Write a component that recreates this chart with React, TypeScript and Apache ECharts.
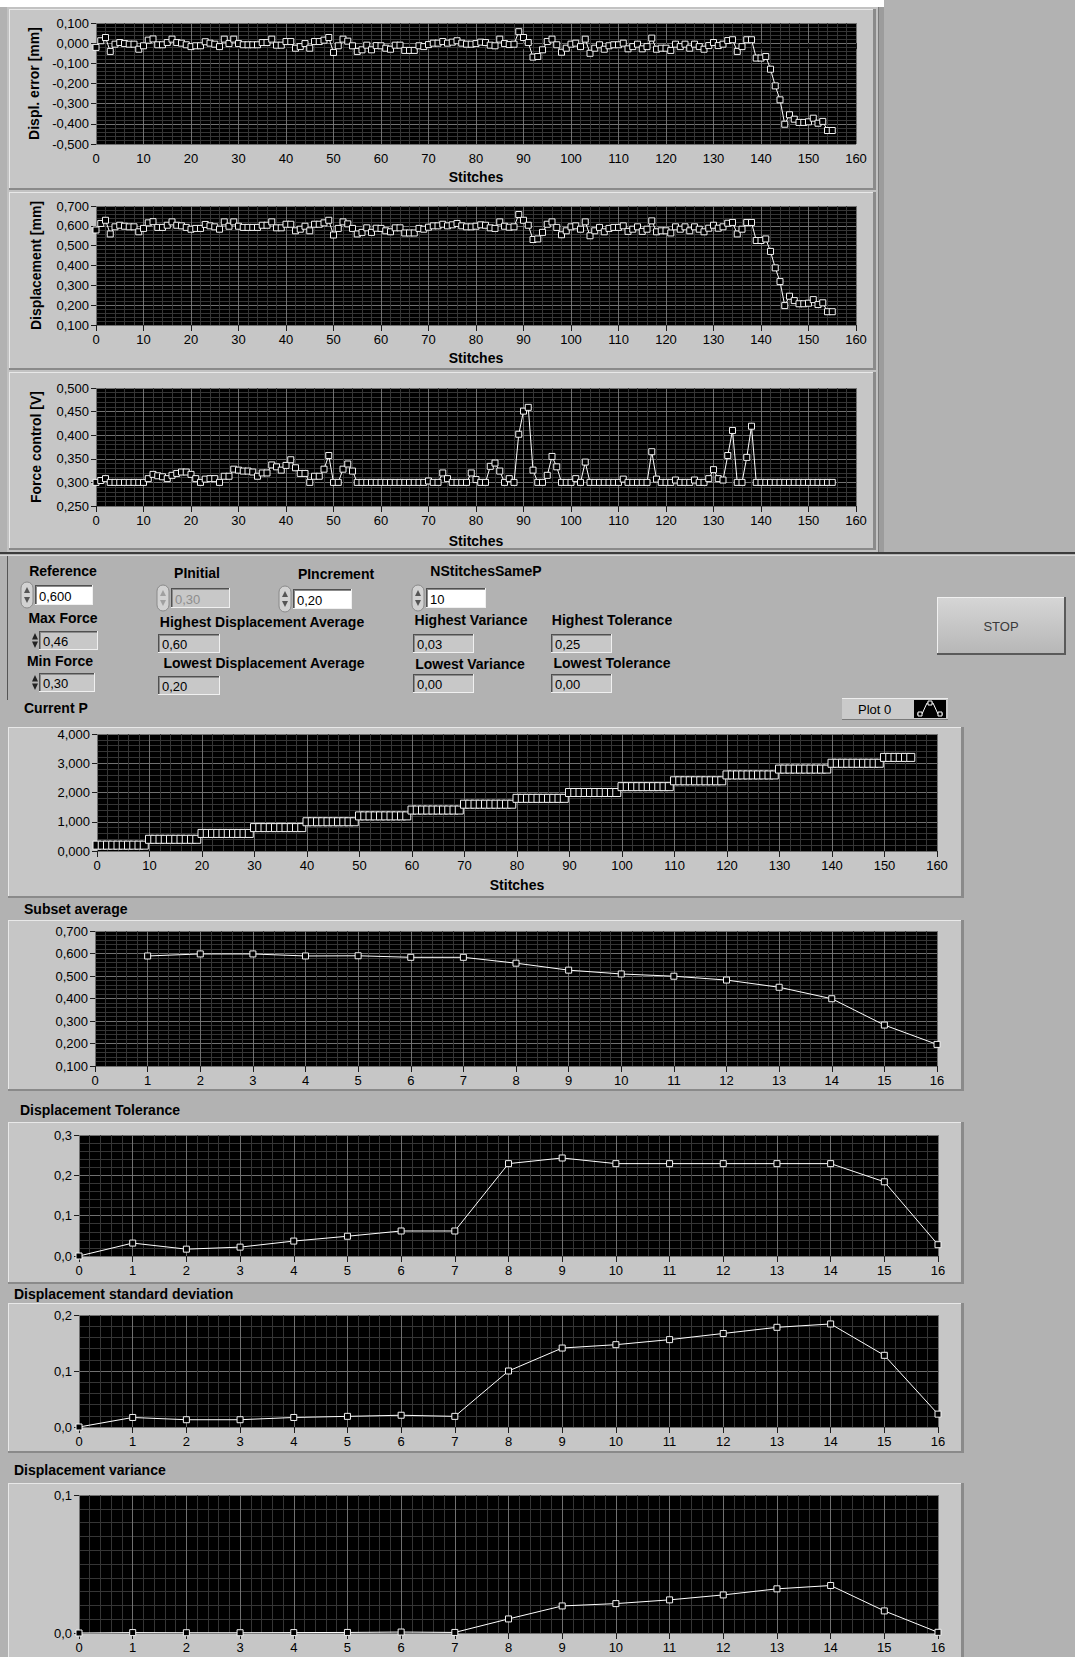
import React, { useEffect, useRef } from "react";
import * as echarts from "echarts";

const FONT = '"Liberation Sans", Arial, Helvetica, sans-serif';
const bold = (s: number) => `bold ${s}px ${FONT}`;
const reg = (s: number) => `${s}px ${FONT}`;

// ---------------- DATA ----------------
const displError = [
  -0.021, 0.012, 0.028, -0.041, -0.005, 0.003, -0.002, -0.005, -0.005, -0.03,
  -0.013, 0.015, 0.021, -0.008, -0.008, 0.003, 0.02, 0.003, 0.0, -0.008,
  -0.017, -0.013, -0.013, 0.007, 0.0, -0.005, -0.017, 0.02, -0.002, 0.02,
  -0.002, -0.008, -0.008, -0.008, -0.008, 0.003, 0.003, 0.02, -0.01, -0.01,
  0.008, 0.008, -0.025, -0.017, -0.002, -0.025, 0.008, 0.008, 0.015, 0.028,
  -0.046, -0.013, 0.02, 0.01, -0.013, -0.041, -0.033, -0.01, -0.033, -0.012,
  -0.013, -0.025, -0.03, -0.01, -0.01, -0.036, -0.036, -0.036, -0.013, -0.017,
  -0.007, 0.0, 0.0, 0.008, 0.0, 0.005, 0.012, 0.0, -0.005, -0.005,
  -0.002, 0.005, 0.003, -0.01, -0.013, 0.02, -0.002, -0.007, -0.005, 0.057,
  0.028, 0.003, -0.069, -0.066, -0.033, 0.008, 0.02, -0.008, -0.045, -0.025,
  -0.005, 0.0, -0.017, 0.02, -0.05, -0.025, -0.008, -0.03, -0.013, -0.008,
  -0.008, 0.0, -0.028, -0.017, -0.005, -0.028, -0.017, 0.025, -0.03, -0.025,
  -0.025, -0.036, -0.005, -0.017, -0.005, -0.025, -0.005, -0.017, -0.03, -0.012,
  0.003, -0.012, -0.005, 0.013, 0.017, -0.041, -0.017, 0.017, 0.017, -0.074,
  -0.074, -0.066, -0.129, -0.212, -0.281, -0.402, -0.355, -0.377, -0.393, -0.393,
  -0.39, -0.372, -0.397, -0.388, -0.433, -0.433,
];

const displacement = [
  0.579, 0.612, 0.628, 0.559, 0.595, 0.603, 0.598, 0.595, 0.595, 0.57,
  0.587, 0.615, 0.621, 0.592, 0.592, 0.603, 0.62, 0.603, 0.6, 0.592,
  0.583, 0.587, 0.587, 0.607, 0.6, 0.595, 0.583, 0.62, 0.598, 0.62,
  0.598, 0.592, 0.592, 0.592, 0.592, 0.603, 0.603, 0.62, 0.59, 0.59,
  0.608, 0.608, 0.575, 0.583, 0.598, 0.575, 0.608, 0.608, 0.615, 0.628,
  0.554, 0.587, 0.62, 0.61, 0.587, 0.559, 0.567, 0.59, 0.567, 0.588,
  0.587, 0.575, 0.57, 0.59, 0.59, 0.564, 0.564, 0.564, 0.587, 0.583,
  0.593, 0.6, 0.6, 0.608, 0.6, 0.605, 0.612, 0.6, 0.595, 0.595,
  0.598, 0.605, 0.603, 0.59, 0.587, 0.62, 0.598, 0.593, 0.595, 0.657,
  0.628, 0.603, 0.531, 0.534, 0.567, 0.608, 0.62, 0.592, 0.555, 0.575,
  0.595, 0.6, 0.583, 0.62, 0.55, 0.575, 0.592, 0.57, 0.587, 0.592,
  0.592, 0.6, 0.572, 0.583, 0.595, 0.572, 0.583, 0.625, 0.57, 0.575,
  0.575, 0.564, 0.595, 0.583, 0.595, 0.575, 0.595, 0.583, 0.57, 0.588,
  0.603, 0.588, 0.595, 0.613, 0.617, 0.559, 0.583, 0.617, 0.617, 0.526,
  0.526, 0.534, 0.471, 0.388, 0.319, 0.198, 0.245, 0.223, 0.207, 0.207,
  0.21, 0.228, 0.203, 0.212, 0.167, 0.167,
];

const forceControl = [
  0.3, 0.304, 0.308, 0.3, 0.3, 0.3, 0.3, 0.3, 0.3, 0.3,
  0.3, 0.308, 0.317, 0.314, 0.312, 0.308, 0.315, 0.319, 0.322, 0.322,
  0.317, 0.308, 0.3, 0.307, 0.308, 0.308, 0.3, 0.313, 0.313, 0.328,
  0.326, 0.324, 0.324, 0.322, 0.313, 0.32, 0.32, 0.337, 0.333, 0.326,
  0.336, 0.348, 0.331, 0.319, 0.319, 0.3, 0.313, 0.313, 0.328, 0.357,
  0.3, 0.3, 0.328, 0.339, 0.324, 0.3, 0.3, 0.3, 0.3, 0.3,
  0.3, 0.3, 0.3, 0.3, 0.3, 0.3, 0.3, 0.3, 0.3, 0.3,
  0.303, 0.3, 0.3, 0.32, 0.308, 0.3, 0.3, 0.3, 0.3, 0.32,
  0.306, 0.3, 0.3, 0.334, 0.341, 0.324, 0.3, 0.308, 0.3, 0.402,
  0.451, 0.459, 0.326, 0.3, 0.3, 0.315, 0.355, 0.333, 0.3, 0.3,
  0.3, 0.308, 0.3, 0.343, 0.3, 0.3, 0.3, 0.3, 0.3, 0.3,
  0.3, 0.307, 0.3, 0.3, 0.3, 0.3, 0.3, 0.365, 0.307, 0.3,
  0.3, 0.3, 0.305, 0.3, 0.3, 0.3, 0.305, 0.3, 0.3, 0.308,
  0.327, 0.308, 0.305, 0.357, 0.41, 0.3, 0.3, 0.353, 0.419, 0.3,
  0.3, 0.3, 0.3, 0.3, 0.3, 0.3, 0.3, 0.3, 0.3, 0.3,
  0.3, 0.3, 0.3, 0.3, 0.3, 0.3,
];

const currentP = [
  0.2, 0.2, 0.2, 0.2, 0.2, 0.2, 0.2, 0.2, 0.2, 0.2,
  0.4, 0.4, 0.4, 0.4, 0.4, 0.4, 0.4, 0.4, 0.4, 0.4,
  0.6, 0.6, 0.6, 0.6, 0.6, 0.6, 0.6, 0.6, 0.6, 0.6,
  0.8, 0.8, 0.8, 0.8, 0.8, 0.8, 0.8, 0.8, 0.8, 0.8,
  1.0, 1.0, 1.0, 1.0, 1.0, 1.0, 1.0, 1.0, 1.0, 1.0,
  1.2, 1.2, 1.2, 1.2, 1.2, 1.2, 1.2, 1.2, 1.2, 1.2,
  1.4, 1.4, 1.4, 1.4, 1.4, 1.4, 1.4, 1.4, 1.4, 1.4,
  1.6, 1.6, 1.6, 1.6, 1.6, 1.6, 1.6, 1.6, 1.6, 1.6,
  1.8, 1.8, 1.8, 1.8, 1.8, 1.8, 1.8, 1.8, 1.8, 1.8,
  2.0, 2.0, 2.0, 2.0, 2.0, 2.0, 2.0, 2.0, 2.0, 2.0,
  2.2, 2.2, 2.2, 2.2, 2.2, 2.2, 2.2, 2.2, 2.2, 2.2,
  2.4, 2.4, 2.4, 2.4, 2.4, 2.4, 2.4, 2.4, 2.4, 2.4,
  2.6, 2.6, 2.6, 2.6, 2.6, 2.6, 2.6, 2.6, 2.6, 2.6,
  2.8, 2.8, 2.8, 2.8, 2.8, 2.8, 2.8, 2.8, 2.8, 2.8,
  3.0, 3.0, 3.0, 3.0, 3.0, 3.0, 3.0, 3.0, 3.0, 3.0,
  3.2, 3.2, 3.2, 3.2, 3.2, 3.2,
];

const subsetNumber = [1, 2, 3, 4, 5, 6, 7, 8, 9, 10, 11, 12, 13, 14, 15, 16];
const subsetAverage = [0.589, 0.598, 0.598, 0.589, 0.59, 0.583, 0.583, 0.557, 0.526, 0.509, 0.499, 0.482, 0.45, 0.399, 0.282, 0.196];

const stepNumber = [0, 1, 2, 3, 4, 5, 6, 7, 8, 9, 10, 11, 12, 13, 14, 15, 16];
const dispTolerance = [0.0, 0.032, 0.017, 0.022, 0.037, 0.049, 0.062, 0.062, 0.229, 0.243, 0.229, 0.229, 0.229, 0.229, 0.229, 0.184, 0.028];
const dispStdDev = [0.0, 0.017, 0.013, 0.013, 0.017, 0.019, 0.021, 0.019, 0.1, 0.141, 0.147, 0.156, 0.167, 0.178, 0.184, 0.128, 0.023];
const dispVariance = [0.0, 0.0003, 0.0002, 0.0002, 0.0003, 0.0004, 0.0007, 0.0004, 0.0102, 0.0196, 0.0213, 0.024, 0.0276, 0.032, 0.0344, 0.016, 0.0005];

const stitchIndex = displError.map((_, i) => i);

const controlLabels = [
  "Reference", "PInitial", "PIncrement", "NStitchesSameP",
  "Max Force", "Highest Displacement Average", "Highest Variance", "Highest Tolerance",
  "Min Force", "Lowest Displacement Average", "Lowest Variance", "Lowest Tolerance",
];
const controlValues = ["0,600", "0,30", "0,20", "10", "0,46", "0,60", "0,03", "0,25", "0,30", "0,20", "0,00", "0,00"];

const sectionTitles = ["Current P", "Subset average", "Displacement Tolerance", "Displacement standard deviation", "Displacement variance"];

// ---------------- LAYOUT ----------------
const controlLayout: any[] = [
  { lx: 63, ly: 571, bx: 35, by: 585, bw: 58, bh: 20, kind: "control", spin: "pill", sx: 21 },
  { lx: 197, ly: 573, bx: 171, by: 588, bw: 59, bh: 20, kind: "disabled", spin: "pill", sx: 157 },
  { lx: 336, ly: 574, bx: 293, by: 589, bw: 59, bh: 20, kind: "control", spin: "pill", sx: 279 },
  { lx: 486, ly: 571, bx: 426, by: 588, bw: 60, bh: 20, kind: "control", spin: "pill", sx: 412 },
  { lx: 63, ly: 618, bx: 39, by: 631, bw: 59, bh: 19, kind: "indicator", spin: "arrows", sx: 32 },
  { lx: 262, ly: 622, bx: 158, by: 634, bw: 62, bh: 19, kind: "indicator" },
  { lx: 471, ly: 620, bx: 413, by: 634, bw: 61, bh: 19, kind: "indicator" },
  { lx: 612, ly: 620, bx: 551, by: 634, bw: 61, bh: 19, kind: "indicator" },
  { lx: 60, ly: 661, bx: 39, by: 673, bw: 56, bh: 19, kind: "indicator", spin: "arrows", sx: 32 },
  { lx: 264, ly: 663, bx: 158, by: 676, bw: 62, bh: 19, kind: "indicator" },
  { lx: 470, ly: 664, bx: 413, by: 674, bw: 61, bh: 19, kind: "indicator" },
  { lx: 612, ly: 663, bx: 551, by: 674, bw: 61, bh: 19, kind: "indicator" },
];
const sectionTitlePos = [
  [24, 708], [24, 909], [20, 1110], [14, 1294], [14, 1470],
];

const fmt = (d: number) => (v: number) => {
  const r = Math.abs(v) < 1e-9 ? 0 : v;
  return r.toFixed(d).replace(".", ",");
};

const specs: any[] = [
  { l: 96, t: 23, r: 856, b: 144, xMax: 160, xInt: 10, yMin: -0.5, yMax: 0.1, yInt: 0.1, dec: 3, yMinor: 5, yName: "Displ. error [mm]", xName: "Stitches", gap: 26, xs: stitchIndex, ys: displError, sym: 6 },
  { l: 96, t: 206, r: 856, b: 325, xMax: 160, xInt: 10, yMin: 0.1, yMax: 0.7, yInt: 0.1, dec: 3, yMinor: 5, yName: "Displacement [mm]", xName: "Stitches", gap: 26, xs: stitchIndex, ys: displacement, sym: 6 },
  { l: 96, t: 388, r: 856, b: 506, xMax: 160, xInt: 10, yMin: 0.25, yMax: 0.5, yInt: 0.05, dec: 3, yMinor: 5, yName: "Force control [V]", xName: "Stitches", gap: 28, xs: stitchIndex, ys: forceControl, sym: 6 },
  { l: 97, t: 734, r: 937, b: 851, xMax: 160, xInt: 10, yMin: 0, yMax: 4, yInt: 1, dec: 3, yMinor: 5, xName: "Stitches", gap: 27, xs: stitchIndex, ys: currentP, sym: 8 },
  { l: 95, t: 931, r: 937, b: 1066, xMax: 16, xInt: 1, yMin: 0.1, yMax: 0.7, yInt: 0.1, dec: 3, yMinor: 5, xs: subsetNumber, ys: subsetAverage, sym: 6 },
  { l: 79, t: 1135, r: 938, b: 1256, xMax: 16, xInt: 1, yMin: 0, yMax: 0.3, yInt: 0.1, dec: 1, yMinor: 5, xs: stepNumber, ys: dispTolerance, sym: 6 },
  { l: 79, t: 1315, r: 938, b: 1427, xMax: 16, xInt: 1, yMin: 0, yMax: 0.2, yInt: 0.1, dec: 1, yMinor: 5, xs: stepNumber, ys: dispStdDev, sym: 6 },
  { l: 79, t: 1495, r: 938, b: 1633, xMax: 16, xInt: 1, yMin: 0, yMax: 0.1, yInt: 0.1, dec: 1, yMinor: 10, xs: stepNumber, ys: dispVariance, sym: 6 },
];

// ---------------- GRAPHICS ----------------
function buildGraphics() {
  const els: any[] = [];
  const rect = (x: number, y: number, w: number, h: number, fill: string, z = -5, extra: any = {}) =>
    els.push({ type: "rect", silent: true, z, shape: { x, y, width: w, height: h, ...(extra.r ? { r: extra.r } : {}) }, style: { fill, stroke: extra.stroke, lineWidth: extra.lineWidth } });
  const line = (x1: number, y1: number, x2: number, y2: number, stroke: string, lw = 1, z = -4) =>
    els.push({ type: "line", silent: true, z, shape: { x1, y1, x2, y2 }, style: { stroke, lineWidth: lw } });
  const poly = (pts: number[][], fill: string, z = 3) => els.push({ type: "polygon", silent: true, z, shape: { points: pts }, style: { fill } });
  const text = (x: number, y: number, t: string, font: string, fill = "#000", align = "left", valign = "middle", rotation = 0) =>
    els.push({
      type: "text", silent: true, z: 5, x, y, rotation,
      style: { text: t, font, fill, align, textAlign: align, verticalAlign: valign, textVerticalAlign: valign },
    });
  const bevel = (x: number, y: number, w: number, h: number, fill: string) => {
    rect(x, y, w, h, fill, -5);
    line(x, y + 0.5, x + w, y + 0.5, "#e8e8e8");
    line(x + 0.5, y, x + 0.5, y + h, "#e8e8e8");
    rect(x + w - 3, y, 3, h, "#8a8a8a", -4);
    rect(x, y + h - 2, w, 2, "#8a8a8a", -4);
  };

  // page backgrounds
  rect(0, 0, 1075, 1657, "#b2b2b2", -10);
  rect(0, 0, 884, 7, "#ffffff", -9);
  rect(7, 7, 877, 546, "#c2c2c2", -9);
  rect(878, 7, 6, 546, "#9c9c9c", -8);
  line(878.5, 7, 878.5, 553, "#7a7a7a", 1, -8);

  // top chart panels
  bevel(9, 9, 867, 181, "#c6c6c6");
  bevel(9, 192, 867, 178, "#c6c6c6");
  bevel(9, 372, 867, 178, "#c6c6c6");

  // separator
  rect(0, 552, 1075, 2, "#3c3c3c", -3);
  rect(0, 555, 1075, 1, "#d8d8d8", -3);
  line(7.5, 556, 7.5, 700, "#555555", 1, -3);

  // lower chart panels
  bevel(8, 727, 956, 171, "#c6c6c6");
  bevel(8, 920, 956, 171, "#c6c6c6");
  bevel(8, 1122, 956, 162, "#c6c6c6");
  bevel(8, 1303, 956, 150, "#c6c6c6");
  bevel(8, 1483, 956, 176, "#c6c6c6");

  // controls
  controlLayout.forEach((c, i) => {
    text(c.lx, c.ly, controlLabels[i], bold(14), "#000", "center", "middle");
    const fill = c.kind === "control" ? "#ffffff" : "#c8c8c8";
    rect(c.bx, c.by, c.bw, c.bh, fill, -2);
    line(c.bx, c.by + 0.5, c.bx + c.bw, c.by + 0.5, "#505050", 1, -1);
    line(c.bx + 0.5, c.by, c.bx + 0.5, c.by + c.bh, "#505050", 1, -1);
    line(c.bx + 1, c.by + 1.5, c.bx + c.bw - 1, c.by + 1.5, "#8c8c8c", 1, -1);
    line(c.bx + 1.5, c.by + 1, c.bx + 1.5, c.by + c.bh - 1, "#8c8c8c", 1, -1);
    line(c.bx, c.by + c.bh - 0.5, c.bx + c.bw, c.by + c.bh - 0.5, "#f0f0f0", 1, -1);
    line(c.bx + c.bw - 0.5, c.by, c.bx + c.bw - 0.5, c.by + c.bh, "#f0f0f0", 1, -1);
    text(c.bx + 4, c.by + c.bh / 2 + 1, controlValues[i], reg(13), c.kind === "disabled" ? "#8e8e8e" : "#000", "left", "middle");
    if (c.spin === "pill") {
      const sy = c.by - 3, sw = 12, sh = c.bh + 6;
      const col = c.kind === "disabled" ? "#a0a0a0" : "#555555";
      els.push({ type: "rect", silent: true, z: 2, shape: { x: c.sx, y: sy, width: sw, height: sh, r: 6 }, style: { fill: "#d2d2d2", stroke: "#8a8a8a", lineWidth: 1 } });
      const cx = c.sx + sw / 2;
      poly([[cx - 3, sy + sh / 2 - 2], [cx + 3, sy + sh / 2 - 2], [cx, sy + 5]], col);
      poly([[cx - 3, sy + sh / 2 + 2], [cx + 3, sy + sh / 2 + 2], [cx, sy + sh - 5]], col);
    } else if (c.spin === "arrows") {
      const cx = c.sx + 3, y0 = c.by + 2, h = c.bh - 4;
      poly([[cx - 3, y0 + h / 2 - 1], [cx + 3, y0 + h / 2 - 1], [cx, y0]], "#222");
      poly([[cx - 3, y0 + h / 2 + 1], [cx + 3, y0 + h / 2 + 1], [cx, y0 + h]], "#222");
    }
  });

  // STOP button
  els.push({
    type: "rect", silent: true, z: 1, shape: { x: 937, y: 597, width: 129, height: 58 },
    style: {
      fill: new echarts.graphic.LinearGradient(0, 0, 0, 1, [
        { offset: 0, color: "#d6d6d6" },
        { offset: 1, color: "#b6b6b6" },
      ]),
    },
  });
  line(937, 597.5, 1066, 597.5, "#f0f0f0", 1, 2);
  line(937.5, 597, 937.5, 655, "#f0f0f0", 1, 2);
  line(937, 654, 1066, 654, "#5a5a5a", 2, 2);
  line(1065, 597, 1065, 655, "#5a5a5a", 2, 2);
  text(1001, 626, "STOP", reg(13), "#3a3a3a", "center", "middle");

  // legend "Plot 0"
  rect(842, 698, 106, 22, "#cacaca", 1);
  line(842, 698.5, 948, 698.5, "#eeeeee", 1, 2);
  line(842, 719.5, 948, 719.5, "#7a7a7a", 1, 2);
  text(858, 709, "Plot 0", reg(13), "#000", "left", "middle");
  rect(914, 700, 32, 18, "#000000", 2);
  els.push({ type: "polyline", silent: true, z: 3, shape: { points: [[917, 714], [922, 714], [927, 703], [933, 703], [938, 714], [943, 714]] }, style: { stroke: "#fff", lineWidth: 1, fill: "none" } });
  [[920, 714], [930, 703], [940, 714]].forEach(([x, y]) =>
    els.push({ type: "rect", silent: true, z: 4, shape: { x: x - 2, y: y - 2, width: 4, height: 4 }, style: { fill: "#000", stroke: "#fff", lineWidth: 1 } })
  );

  // section titles
  sectionTitles.forEach((t, i) => text(sectionTitlePos[i][0], sectionTitlePos[i][1], t, bold(14), "#000", "left", "middle"));

  return els;
}

function buildOption() {
  const labelStyle = { color: "#000", fontSize: 13, fontFamily: FONT };
  const nameStyle = { color: "#000", fontSize: 14, fontWeight: "bold", fontFamily: FONT };
  return {
    animation: false,
    textStyle: { fontFamily: FONT },
    graphic: { elements: buildGraphics() },
    grid: specs.map((s) => ({ left: s.l, top: s.t, width: s.r - s.l, height: s.b - s.t, show: true, backgroundColor: "#000", borderWidth: 0 })),
    xAxis: specs.map((s, i) => ({
      gridIndex: i, type: "value", min: 0, max: s.xMax, interval: s.xInt,
      axisLine: { show: false },
      axisTick: { show: true, length: 6, lineStyle: { color: "#1c1c1c" } },
      axisLabel: { ...labelStyle, margin: 8, showMinLabel: true, showMaxLabel: true, formatter: (v: number) => String(v) },
      splitLine: { show: true, lineStyle: { color: "#707070", width: 1 } },
      minorTick: { show: false, splitNumber: 5 },
      minorSplitLine: { show: true, lineStyle: { color: "#353535", width: 1 } },
      name: s.xName, nameLocation: "middle", nameGap: s.gap, nameTextStyle: nameStyle,
    })),
    yAxis: specs.map((s, i) => ({
      gridIndex: i, type: "value", min: s.yMin, max: s.yMax, interval: s.yInt,
      axisLine: { show: false },
      axisTick: { show: true, length: 5, lineStyle: { color: "#1c1c1c" } },
      axisLabel: { ...labelStyle, margin: 7, showMinLabel: true, showMaxLabel: true, formatter: fmt(s.dec) },
      splitLine: { show: true, lineStyle: { color: "#707070", width: 1 } },
      minorTick: { show: false, splitNumber: s.yMinor },
      minorSplitLine: { show: true, lineStyle: { color: "#353535", width: 1 } },
      name: s.yName, nameLocation: "middle", nameGap: 53, nameTextStyle: nameStyle,
    })),
    series: specs.map((s, i) => ({
      type: "line", xAxisIndex: i, yAxisIndex: i,
      data: s.ys.map((v: number, k: number) => [s.xs[k], v]),
      symbol: "rect", symbolSize: s.sym, showAllSymbol: true,
      lineStyle: { color: "#ffffff", width: 1 },
      itemStyle: { color: "#000000", borderColor: "#f2f2f2", borderWidth: 1 },
      emphasis: { disabled: true }, silent: true,
    })),
  };
}

export default function App() {
  const ref = useRef<HTMLDivElement>(null);
  useEffect(() => {
    if (!ref.current) return;
    const chart = echarts.init(ref.current, null, { renderer: "svg" });
    chart.setOption(buildOption() as any);
    return () => chart.dispose();
  }, []);
  return <div ref={ref} style={{ position: "absolute", left: 0, top: 0, width: 1075, height: 1657 }} />;
}
